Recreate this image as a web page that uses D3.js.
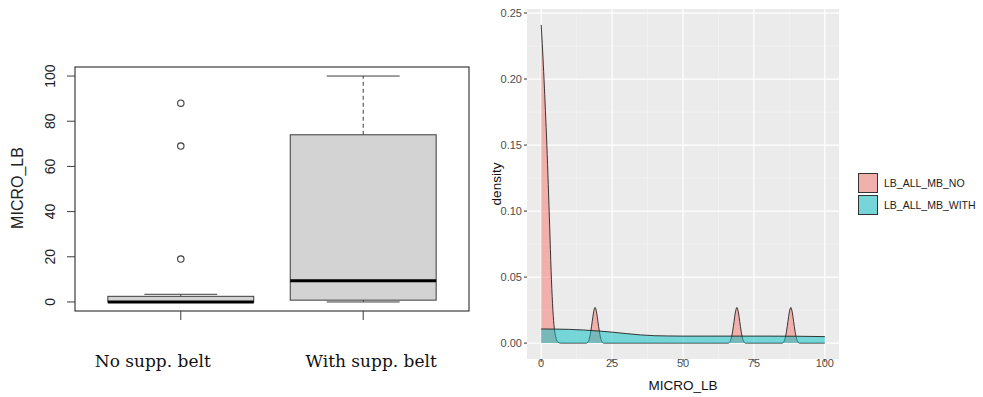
<!DOCTYPE html>
<html>
<head>
<meta charset="utf-8">
<script src="https://cdn.jsdelivr.net/npm/d3@7"></script>
<style>
  body { margin: 0; background: #fff; }
  svg { display: block; }
</style>
</head>
<body>
<div class="chart"></div>
<script>
// ---- left panel: boxplot ----
const groups = ['No supp. belt', 'With supp. belt'];
const boxLow = [0, 0];
const boxQ1 = [0, 0.8];
const boxMedian = [0, 9.4];
const boxQ3 = [2.5, 74];
const boxHigh = [3.4, 100];
const outliers = [[88, 69, 19], []];
const boxTicks = [0, 20, 40, 60, 80, 100];

// ---- right panel: density curves ----
const seriesNames = ['LB_ALL_MB_NO', 'LB_ALL_MB_WITH'];
const densNoX = [0, 0.5, 1, 1.5, 2, 2.5, 3, 3.5, 4, 4.5, 5, 5.5, 6, 7, 16, 16.5, 17, 17.5, 18, 18.5, 19, 19.5, 20, 20.5, 21, 21.5, 22, 66, 66.5, 67, 67.5, 68, 68.5, 69, 69.5, 70, 70.5, 71, 71.5, 72, 85, 85.5, 86, 86.5, 87, 87.5, 88, 88.5, 89, 89.5, 90, 90.5, 91, 100];
const densNoY = [0.241, 0.222, 0.2, 0.176, 0.15, 0.12, 0.088, 0.055, 0.03, 0.014, 0.006, 0.002, 0.0006, 0, 0, 0.0009, 0.0036, 0.009, 0.0164, 0.0236, 0.027, 0.0236, 0.0164, 0.009, 0.0036, 0.0009, 0, 0, 0.0009, 0.0036, 0.009, 0.0164, 0.0236, 0.027, 0.0236, 0.0164, 0.009, 0.0036, 0.0009, 0, 0, 0.0009, 0.0036, 0.009, 0.0164, 0.0236, 0.027, 0.0236, 0.0164, 0.009, 0.0036, 0.0009, 0, 0];
const densWithX = [0, 10, 15, 20, 25, 30, 35, 40, 45, 50, 60, 70, 80, 90, 100];
const densWithY = [0.0107, 0.0104, 0.0099, 0.0092, 0.0083, 0.0072, 0.0062, 0.0056, 0.0054, 0.0053, 0.0053, 0.0053, 0.0053, 0.0052, 0.0049];
const xTicks = [0, 25, 50, 75, 100];
const yTicks = [0, 0.05, 0.10, 0.15, 0.20, 0.25];

const W = 983, H = 397;
const svg = d3.select('.chart').append('svg')
  .attr('width', W).attr('height', H);

// ================= boxplot =================
const frame = { left: 75, right: 469, top: 67, bottom: 311 };
const bx = d3.scaleLinear().domain([0.42, 2.58]).range([frame.left, frame.right]);
const by = d3.scaleLinear().domain([-4, 104]).range([frame.bottom, frame.top]);
const halfW = (bx(1.4) - bx(1));
const capW = halfW / 2;
const dark = '#3c3c3c';
const labelShift = [-28, 8];

const left = svg.append('g').attr('font-family', 'Liberation Sans, Arial, sans-serif');

groups.forEach((g, i) => {
  const cx = bx(i + 1);
  const grp = left.append('g');
  // whiskers (dashed)
  grp.append('line').attr('x1', cx).attr('x2', cx)
    .attr('y1', by(boxQ3[i])).attr('y2', by(boxHigh[i]))
    .attr('stroke', dark).attr('stroke-dasharray', '4,3');
  grp.append('line').attr('x1', cx).attr('x2', cx)
    .attr('y1', by(boxQ1[i])).attr('y2', by(boxLow[i]))
    .attr('stroke', dark).attr('stroke-dasharray', '4,3');
  // caps
  [boxLow[i], boxHigh[i]].forEach(v => {
    grp.append('line').attr('x1', cx - capW).attr('x2', cx + capW)
      .attr('y1', by(v)).attr('y2', by(v))
      .attr('stroke', dark).attr('stroke-width', 1);
  });
  // box
  grp.append('rect')
    .attr('x', cx - halfW).attr('width', halfW * 2)
    .attr('y', by(boxQ3[i])).attr('height', Math.max(1, by(boxQ1[i]) - by(boxQ3[i])))
    .attr('fill', '#d3d3d3').attr('stroke', dark).attr('stroke-width', 1);
  // median
  grp.append('line').attr('x1', cx - halfW).attr('x2', cx + halfW)
    .attr('y1', by(boxMedian[i])).attr('y2', by(boxMedian[i]))
    .attr('stroke', '#000').attr('stroke-width', 3);
  // outliers
  grp.selectAll('circle').data(outliers[i]).enter().append('circle')
    .attr('cx', cx).attr('cy', d => by(d)).attr('r', 3.2)
    .attr('fill', 'none').attr('stroke', dark).attr('stroke-width', 1.1);
  // x tick
  grp.append('line').attr('x1', cx).attr('x2', cx)
    .attr('y1', frame.bottom).attr('y2', frame.bottom + 9).attr('stroke', dark);
  // category label
  svg.append('text').attr('x', cx + labelShift[i]).attr('y', 367)
    .attr('text-anchor', 'middle')
    .attr('font-family', 'DejaVu Serif, Liberation Serif, serif')
    .attr('font-size', 17).attr('fill', '#111')
    .text(g);
});

left.append('rect')
  .attr('x', frame.left).attr('y', frame.top)
  .attr('width', frame.right - frame.left).attr('height', frame.bottom - frame.top)
  .attr('fill', 'none').attr('stroke', dark).attr('stroke-width', 1.2);

boxTicks.forEach(t => {
  left.append('line').attr('x1', frame.left - 8).attr('x2', frame.left)
    .attr('y1', by(t)).attr('y2', by(t)).attr('stroke', dark);
  left.append('text')
    .attr('transform', `translate(55, ${by(t)}) rotate(-90)`)
    .attr('text-anchor', 'middle')
    .attr('font-size', 14).attr('fill', '#222')
    .text(t);
});
left.append('text')
  .attr('transform', `translate(23, 188) rotate(-90)`)
  .attr('text-anchor', 'middle').attr('font-size', 16).attr('fill', '#222')
  .text('MICRO_LB');

// ================= density plot =================
const panel = { left: 527, right: 839, top: 9, bottom: 359 };
const dx = d3.scaleLinear().domain([-5, 105]).range([panel.left, panel.right]);
const dy = d3.scaleLinear().domain([-0.01205, 0.25305]).range([panel.bottom, panel.top]);
const right = svg.append('g').attr('font-family', 'Liberation Sans, Arial, sans-serif');

right.append('rect')
  .attr('x', panel.left).attr('y', panel.top)
  .attr('width', panel.right - panel.left).attr('height', panel.bottom - panel.top)
  .attr('fill', '#ebebeb');

const minorX = [12.5, 37.5, 62.5, 87.5];
const minorY = [0.025, 0.075, 0.125, 0.175, 0.225];
minorX.forEach(v => right.append('line')
  .attr('x1', dx(v)).attr('x2', dx(v)).attr('y1', panel.top).attr('y2', panel.bottom)
  .attr('stroke', '#f5f5f5').attr('stroke-width', 0.6));
minorY.forEach(v => right.append('line')
  .attr('x1', panel.left).attr('x2', panel.right).attr('y1', dy(v)).attr('y2', dy(v))
  .attr('stroke', '#f5f5f5').attr('stroke-width', 0.6));
xTicks.forEach(v => right.append('line')
  .attr('x1', dx(v)).attr('x2', dx(v)).attr('y1', panel.top).attr('y2', panel.bottom)
  .attr('stroke', '#fff').attr('stroke-width', 1.2));
yTicks.forEach(v => right.append('line')
  .attr('x1', panel.left).attr('x2', panel.right).attr('y1', dy(v)).attr('y2', dy(v))
  .attr('stroke', '#fff').attr('stroke-width', 1.2));

const seriesData = [
  densNoX.map((x, i) => [x, densNoY[i]]),
  densWithX.map((x, i) => [x, densWithY[i]])
];
const fills = ['#F8766D', '#00BFC4'];
const area = d3.area().x(d => dx(d[0])).y0(dy(0)).y1(d => dy(d[1])).curve(d3.curveMonotoneX);
const line = d3.line().x(d => dx(d[0])).y(d => dy(d[1])).curve(d3.curveMonotoneX);

seriesData.forEach((s, i) => {
  right.append('path').datum(s).attr('d', area)
    .attr('fill', fills[i]).attr('fill-opacity', 0.5);
  right.append('path').datum(s).attr('d', line)
    .attr('fill', 'none').attr('stroke', '#1a1a1a').attr('stroke-width', 1)
    .attr('stroke-opacity', 0.85);
});

// axes
xTicks.forEach(v => {
  right.append('line').attr('x1', dx(v)).attr('x2', dx(v))
    .attr('y1', panel.bottom).attr('y2', panel.bottom + 3).attr('stroke', '#333');
  right.append('text').attr('x', dx(v)).attr('y', 367)
    .attr('text-anchor', 'middle').attr('font-size', 11).attr('fill', '#4d4d4d')
    .text(v);
});
yTicks.forEach(v => {
  right.append('line').attr('x1', panel.left - 3).attr('x2', panel.left)
    .attr('y1', dy(v)).attr('y2', dy(v)).attr('stroke', '#333');
  right.append('text').attr('x', panel.left - 5).attr('y', dy(v) + 4)
    .attr('text-anchor', 'end').attr('font-size', 11).attr('fill', '#4d4d4d')
    .text(d3.format('.2f')(v));
});
right.append('text').attr('x', (panel.left + panel.right) / 2).attr('y', 390)
  .attr('text-anchor', 'middle').attr('font-size', 13.5).attr('fill', '#111')
  .text('MICRO_LB');
right.append('text')
  .attr('transform', `translate(501, ${(panel.top + panel.bottom) / 2}) rotate(-90)`)
  .attr('text-anchor', 'middle').attr('font-size', 13.5).attr('fill', '#111')
  .text('density');

// legend
seriesNames.forEach((n, i) => {
  const ly = 173 + i * 22;
  right.append('rect').attr('x', 858).attr('y', ly).attr('width', 20).attr('height', 20)
    .attr('fill', '#ebebeb');
  right.append('rect').attr('x', 858.5).attr('y', ly + 0.5).attr('width', 19).attr('height', 19)
    .attr('fill', fills[i]).attr('fill-opacity', 0.5)
    .attr('stroke', '#333').attr('stroke-width', 1);
  right.append('text').attr('x', 884).attr('y', ly + 14)
    .attr('font-size', 10.5).attr('fill', '#222')
    .text(n);
});
</script>
</body>
</html>
